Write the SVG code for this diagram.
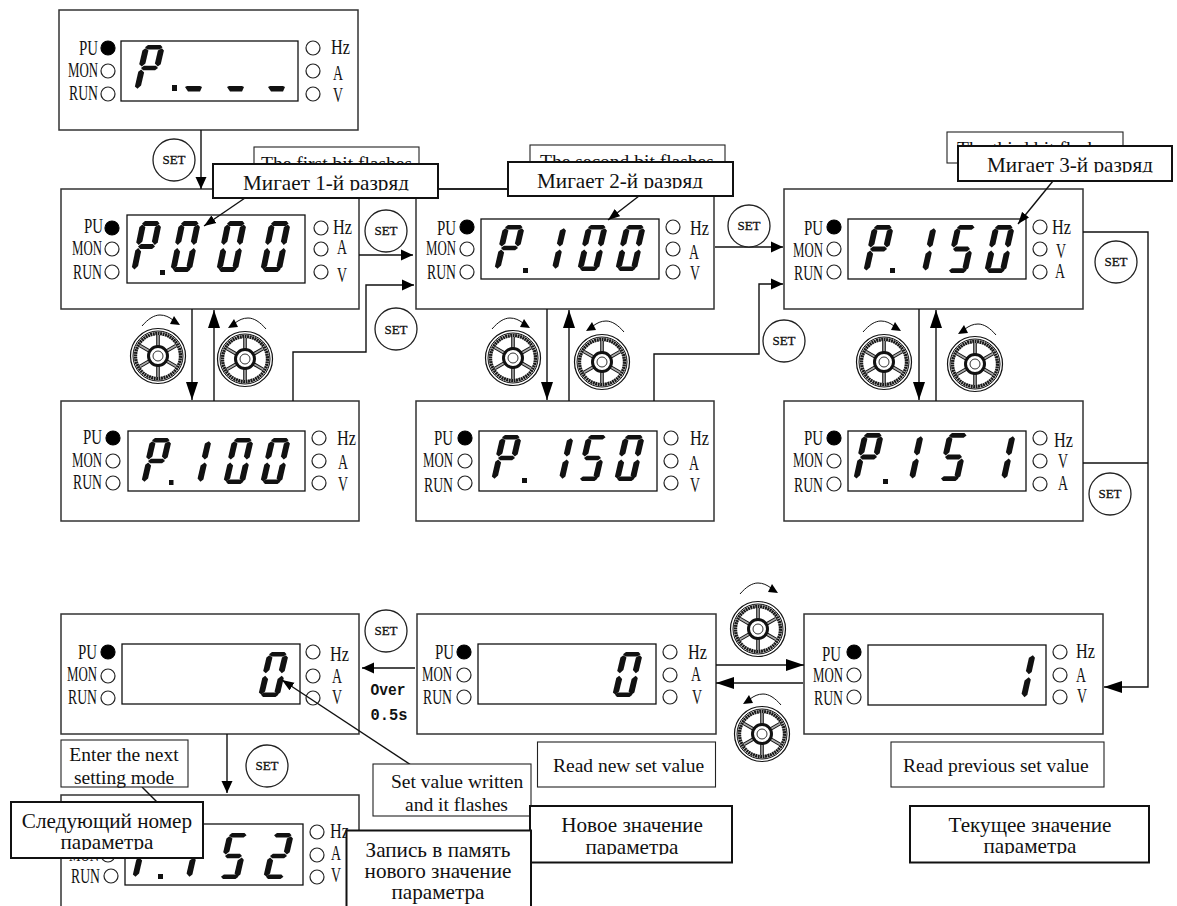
<svg xmlns="http://www.w3.org/2000/svg" width="1177" height="906" viewBox="0 0 1177 906">
<style>
text{font-family:"Liberation Serif","Times New Roman",serif;fill:#111}
.pn{fill:#fff;stroke:#333;stroke-width:1.5}
.dp{fill:#fff;stroke:#111;stroke-width:1.3}
.led{fill:#fff;stroke:#222;stroke-width:1.2}
.on{fill:#000;stroke:#000;stroke-width:1.2}
.l{font-size:20px}
.e{text-anchor:end}
.m{text-anchor:middle}
.con{fill:none;stroke:#111;stroke-width:1.4}
.setc{fill:#fff;stroke:#222;stroke-width:1.3}
.sett{font-size:13px;text-anchor:middle;stroke:#111;stroke-width:0.3}
.nb{fill:#fff;stroke:#222;stroke-width:1.1}
.kb{fill:#fff;stroke:#111;stroke-width:2}
.t{font-size:19.5px}
.r{font-size:21.2px}
.ov{font-family:"Liberation Mono",monospace;font-weight:bold;font-size:17px}
.arc{fill:none;stroke:#111;stroke-width:1}
.seg{fill:#111}
</style>
<defs>
<marker id="ah" markerUnits="userSpaceOnUse" markerWidth="12" markerHeight="12" refX="12" refY="6" orient="auto"><path d="M0,0.5L12,6L0,11.5Z" fill="#000"/></marker>
<marker id="ahl" markerUnits="userSpaceOnUse" markerWidth="18" markerHeight="12" refX="18" refY="6" orient="auto"><path d="M0,0L18,6L0,12Z" fill="#000"/></marker>
<marker id="ahs" markerUnits="userSpaceOnUse" markerWidth="12" markerHeight="10" refX="12" refY="5" orient="auto"><path d="M0,0.5L12,5L0,9.5Z" fill="#000"/></marker>
<polygon id="sa" class="seg" points="5,0 17.5,0 20,2.5 17.5,5 5,5 2.5,2.5"/>
<polygon id="sf" class="seg" points="0.5,6 3,3.5 6.5,6 6,20 3,23.5 0,21"/>
<polygon id="sb" class="seg" points="16,6 19.5,3.5 22,6 21.5,21 19,23.5 15.5,20"/>
<polygon id="sg" class="seg" points="5,22.5 17,22.5 19.5,25 17,27.5 5,27.5 2.5,25"/>
<polygon id="se" class="seg" points="0.5,29 3,26.5 6.5,30 6,44 3,47.5 0,45"/>
<polygon id="sc" class="seg" points="16,30 19.5,26.5 22,29 21.5,45 19,47.5 15.5,44"/>
<polygon id="sd" class="seg" points="5,45 17.5,45 20,47.5 17.5,50 5,50 2.5,47.5"/>
<g id="d0" transform="matrix(1 0 -0.18 1 0 0)"><use href="#sa"/><use href="#sf"/><use href="#sb"/><use href="#se"/><use href="#sc"/><use href="#sd"/></g>
<g id="d1" transform="matrix(1 0 -0.18 1 0 0)"><use href="#sb"/><use href="#sc"/></g>
<g id="d2" transform="matrix(1 0 -0.18 1 0 0)"><use href="#sa"/><use href="#sb"/><use href="#sg"/><use href="#se"/><use href="#sd"/></g>
<g id="d5" transform="matrix(1 0 -0.18 1 0 0)"><use href="#sa"/><use href="#sf"/><use href="#sg"/><use href="#sc"/><use href="#sd"/></g>
<g id="dP" transform="matrix(1 0 -0.18 1 0 0)"><use href="#sa"/><use href="#sf"/><use href="#sb"/><use href="#sg"/><use href="#se"/></g>
<polygon id="dash" class="seg" points="0,1 2,0 15,0 17,1 15,5.5 3,5.5"/>
<g id="wheel">
<circle r="27.5" fill="#fff" stroke="#111" stroke-width="1.2"/>
<circle r="25" fill="none" stroke="#111" stroke-width="1"/>
<circle r="22.5" fill="none" stroke="#1a1a1a" stroke-width="3.4" stroke-dasharray="2 0.5"/>
<path d="M0,-21V21M-18.2,-10.5L18.2,10.5M-18.2,10.5L18.2,-10.5" fill="none" stroke="#111" stroke-width="3.6"/>
<path d="M0,-21V21M-18.2,-10.5L18.2,10.5M-18.2,10.5L18.2,-10.5" fill="none" stroke="#aaa" stroke-width="1.6"/>
<circle r="9.5" fill="#fff" stroke="#111" stroke-width="3"/>
<circle r="5" fill="#fff" stroke="#333" stroke-width="1"/>
</g>
<g id="cw"><path class="arc" d="M0,0C6,-7 12,-11 18,-11C23,-11 27,-9 31,-6"/><polygon points="38,-1 32,-10 28,-2" fill="#000"/></g>
<clipPath id="c1"><rect x="214" y="165" width="223" height="25.5"/></clipPath>
<clipPath id="c2"><rect x="509" y="163" width="223" height="25.5"/></clipPath>
<clipPath id="c3"><rect x="959" y="147" width="212" height="25.5"/></clipPath>
<clipPath id="c4"><rect x="12" y="803" width="190" height="47"/></clipPath>
<clipPath id="c5"><rect x="531" y="807" width="200" height="48"/></clipPath>
<clipPath id="c6"><rect x="911" y="807" width="237" height="47"/></clipPath>
</defs>
<rect width="1177" height="906" fill="#fff"/>

<g id="panel-1">
<rect class="pn" x="59" y="10" width="299" height="120"/><rect class="dp" x="121" y="41" width="177" height="60"/>
<circle class="on" cx="108" cy="48" r="7"/><circle class="led" cx="108" cy="71" r="7"/><circle class="led" cx="108" cy="94" r="7"/>
<circle class="led" cx="313" cy="48" r="7"/><circle class="led" cx="313" cy="71" r="7"/><circle class="led" cx="313" cy="94" r="7"/>
<text class="l e" x="98" y="55" textLength="19" lengthAdjust="spacingAndGlyphs">PU</text><text class="l e" x="98" y="77" textLength="30" lengthAdjust="spacingAndGlyphs">MON</text><text class="l e" x="98" y="100" textLength="29" lengthAdjust="spacingAndGlyphs">RUN</text>
<text class="l" x="331" y="54" textLength="19" lengthAdjust="spacingAndGlyphs">Hz</text><text class="l m" x="338" y="80" textLength="10" lengthAdjust="spacingAndGlyphs">A</text><text class="l m" x="338" y="102" textLength="10" lengthAdjust="spacingAndGlyphs">V</text>
<use href="#dP" transform="translate(143,45) scale(1,0.92)"/><rect class="seg" x="172" y="85" width="5" height="6"/>
<use href="#dash" x="185" y="86"/><use href="#dash" x="227" y="86"/><use href="#dash" x="268" y="86"/>
</g>

<g id="panel-2">
<rect class="pn" x="61" y="189" width="298" height="120"/><rect class="dp" x="127" y="215" width="178" height="68"/>
<circle class="on" cx="112" cy="228" r="7"/><circle class="led" cx="112" cy="249" r="7"/><circle class="led" cx="112" cy="272" r="7"/>
<circle class="led" cx="321" cy="228" r="7"/><circle class="led" cx="321" cy="249" r="7"/><circle class="led" cx="321" cy="272" r="7"/>
<text class="l e" x="103" y="233" textLength="19" lengthAdjust="spacingAndGlyphs">PU</text><text class="l e" x="102" y="255" textLength="30" lengthAdjust="spacingAndGlyphs">MON</text><text class="l e" x="102" y="279" textLength="29" lengthAdjust="spacingAndGlyphs">RUN</text>
<text class="l" x="333" y="234" textLength="19" lengthAdjust="spacingAndGlyphs">Hz</text><text class="l m" x="342" y="254" textLength="10" lengthAdjust="spacingAndGlyphs">A</text><text class="l m" x="342" y="282" textLength="10" lengthAdjust="spacingAndGlyphs">V</text>
<use href="#dP" transform="translate(140,221) scale(1,1.02)"/><rect class="seg" x="160" y="270" width="5" height="5"/>
<use href="#d0" transform="translate(179,221) scale(1,1.02)"/><use href="#d0" transform="translate(225,221) scale(1,1.02)"/><use href="#d0" transform="translate(269,221) scale(1,1.02)"/>
</g>

<g id="panel-3">
<rect class="pn" x="416" y="189" width="298" height="120"/><rect class="dp" x="481" y="219" width="178" height="60"/>
<circle class="on" cx="467" cy="227" r="7"/><circle class="led" cx="467" cy="249" r="7"/><circle class="led" cx="467" cy="272" r="7"/>
<circle class="led" cx="673" cy="227" r="7"/><circle class="led" cx="673" cy="249" r="7"/><circle class="led" cx="673" cy="272" r="7"/>
<text class="l e" x="456" y="235" textLength="19" lengthAdjust="spacingAndGlyphs">PU</text><text class="l e" x="456" y="255" textLength="30" lengthAdjust="spacingAndGlyphs">MON</text><text class="l e" x="456" y="279" textLength="29" lengthAdjust="spacingAndGlyphs">RUN</text>
<text class="l" x="690" y="235" textLength="19" lengthAdjust="spacingAndGlyphs">Hz</text><text class="l m" x="694" y="259" textLength="10" lengthAdjust="spacingAndGlyphs">A</text><text class="l m" x="695" y="280" textLength="10" lengthAdjust="spacingAndGlyphs">V</text>
<use href="#dP" transform="translate(503,225) scale(1,0.92)"/><rect class="seg" x="523" y="268" width="5" height="5"/>
<use href="#d1" transform="translate(545,225) scale(1,0.92)"/><use href="#d0" transform="translate(586,225) scale(1,0.92)"/><use href="#d0" transform="translate(624,225) scale(1,0.92)"/>
</g>

<g id="panel-4">
<rect class="pn" x="784" y="189" width="299" height="120"/><rect class="dp" x="848" y="219" width="178" height="60"/>
<circle class="on" cx="834" cy="227" r="7"/><circle class="led" cx="834" cy="249" r="7"/><circle class="led" cx="834" cy="272" r="7"/>
<circle class="led" cx="1040" cy="227" r="7"/><circle class="led" cx="1040" cy="249" r="7"/><circle class="led" cx="1040" cy="272" r="7"/>
<text class="l e" x="823" y="235" textLength="19" lengthAdjust="spacingAndGlyphs">PU</text><text class="l e" x="823" y="257" textLength="30" lengthAdjust="spacingAndGlyphs">MON</text><text class="l e" x="823" y="280" textLength="29" lengthAdjust="spacingAndGlyphs">RUN</text>
<text class="l" x="1052" y="234" textLength="19" lengthAdjust="spacingAndGlyphs">Hz</text><text class="l m" x="1061" y="258" textLength="10" lengthAdjust="spacingAndGlyphs">V</text><text class="l m" x="1060" y="278" textLength="10" lengthAdjust="spacingAndGlyphs">A</text>
<use href="#dP" transform="translate(872,225) scale(1,0.96)"/><rect class="seg" x="890" y="268" width="5" height="5"/>
<use href="#d1" transform="translate(915,225) scale(1,0.96)"/><use href="#d5" transform="translate(955,225) scale(1,0.96)"/><use href="#d0" transform="translate(993,225) scale(1,0.96)"/>
</g>

<g id="panel-5">
<rect class="pn" x="61" y="401" width="298" height="120"/><rect class="dp" x="128" y="431" width="177" height="60"/>
<circle class="on" cx="113" cy="438" r="7"/><circle class="led" cx="113" cy="461" r="7"/><circle class="led" cx="113" cy="483" r="7"/>
<circle class="led" cx="319" cy="438" r="7"/><circle class="led" cx="319" cy="461" r="7"/><circle class="led" cx="319" cy="483" r="7"/>
<text class="l e" x="102" y="444" textLength="19" lengthAdjust="spacingAndGlyphs">PU</text><text class="l e" x="102" y="467" textLength="30" lengthAdjust="spacingAndGlyphs">MON</text><text class="l e" x="102" y="489" textLength="29" lengthAdjust="spacingAndGlyphs">RUN</text>
<text class="l" x="337" y="445" textLength="19" lengthAdjust="spacingAndGlyphs">Hz</text><text class="l m" x="343" y="469" textLength="10" lengthAdjust="spacingAndGlyphs">A</text><text class="l m" x="343" y="491" textLength="10" lengthAdjust="spacingAndGlyphs">V</text>
<use href="#dP" transform="translate(150,438) scale(1,0.92)"/><rect class="seg" x="169" y="480" width="4.5" height="5"/>
<use href="#d1" transform="translate(190,438) scale(1,0.92)"/><use href="#d0" transform="translate(232,438) scale(1,0.92)"/><use href="#d0" transform="translate(269,438) scale(1,0.92)"/>
</g>

<g id="panel-6">
<rect class="pn" x="416" y="401" width="298" height="120"/><rect class="dp" x="479" y="431" width="178" height="60"/>
<circle class="on" cx="465" cy="438" r="7"/><circle class="led" cx="465" cy="461" r="7"/><circle class="led" cx="465" cy="483" r="7"/>
<circle class="led" cx="671" cy="438" r="7"/><circle class="led" cx="671" cy="461" r="7"/><circle class="led" cx="671" cy="483" r="7"/>
<text class="l e" x="453" y="445" textLength="19" lengthAdjust="spacingAndGlyphs">PU</text><text class="l e" x="453" y="467" textLength="30" lengthAdjust="spacingAndGlyphs">MON</text><text class="l e" x="453" y="492" textLength="29" lengthAdjust="spacingAndGlyphs">RUN</text>
<text class="l" x="690" y="445" textLength="19" lengthAdjust="spacingAndGlyphs">Hz</text><text class="l m" x="694" y="470" textLength="10" lengthAdjust="spacingAndGlyphs">A</text><text class="l m" x="695" y="492" textLength="10" lengthAdjust="spacingAndGlyphs">V</text>
<use href="#dP" transform="translate(500,435) scale(1,0.92)"/><rect class="seg" x="522" y="478" width="5" height="5"/>
<use href="#d1" transform="translate(552,435) scale(1,0.92)"/><use href="#d5" transform="translate(586,435) scale(1,0.92)"/><use href="#d0" transform="translate(623,435) scale(1,0.92)"/>
</g>

<g id="panel-7">
<rect class="pn" x="784" y="401" width="299" height="120"/><rect class="dp" x="848" y="431" width="178" height="60"/>
<circle class="on" cx="834" cy="438" r="7"/><circle class="led" cx="834" cy="461" r="7"/><circle class="led" cx="834" cy="484" r="7"/>
<circle class="led" cx="1040" cy="438" r="7"/><circle class="led" cx="1040" cy="461" r="7"/><circle class="led" cx="1040" cy="484" r="7"/>
<text class="l e" x="823" y="445" textLength="19" lengthAdjust="spacingAndGlyphs">PU</text><text class="l e" x="823" y="467" textLength="30" lengthAdjust="spacingAndGlyphs">MON</text><text class="l e" x="823" y="492" textLength="29" lengthAdjust="spacingAndGlyphs">RUN</text>
<text class="l" x="1054" y="447" textLength="19" lengthAdjust="spacingAndGlyphs">Hz</text><text class="l m" x="1063" y="468" textLength="10" lengthAdjust="spacingAndGlyphs">V</text><text class="l m" x="1063" y="490" textLength="10" lengthAdjust="spacingAndGlyphs">A</text>
<use href="#dP" transform="translate(862,433) scale(1,0.96)"/><rect class="seg" x="883" y="479" width="5" height="5"/>
<use href="#d1" transform="translate(902,433) scale(1,0.96)"/><use href="#d5" transform="translate(947,433) scale(1,0.96)"/><use href="#d1" transform="translate(994,433) scale(1,0.96)"/>
</g>

<g id="panel-8">
<rect class="pn" x="61" y="614" width="298" height="120"/><rect class="dp" x="122" y="644" width="178" height="60"/>
<circle class="on" cx="108" cy="652" r="7"/><circle class="led" cx="108" cy="676" r="7"/><circle class="led" cx="108" cy="698" r="7"/>
<circle class="led" cx="313" cy="652" r="7"/><circle class="led" cx="313" cy="676" r="7"/><circle class="led" cx="313" cy="698" r="7"/>
<text class="l e" x="97" y="659" textLength="19" lengthAdjust="spacingAndGlyphs">PU</text><text class="l e" x="97" y="681" textLength="30" lengthAdjust="spacingAndGlyphs">MON</text><text class="l e" x="97" y="704" textLength="29" lengthAdjust="spacingAndGlyphs">RUN</text>
<text class="l" x="330" y="661" textLength="19" lengthAdjust="spacingAndGlyphs">Hz</text><text class="l m" x="337" y="683" textLength="10" lengthAdjust="spacingAndGlyphs">A</text><text class="l m" x="337" y="704" textLength="10" lengthAdjust="spacingAndGlyphs">V</text>
<use href="#d0" transform="translate(267,652) scale(1,0.9)"/>
</g>

<g id="panel-9">
<rect class="pn" x="417" y="614" width="299" height="120"/><rect class="dp" x="478" y="644" width="178" height="60"/>
<circle class="on" cx="464" cy="652" r="7"/><circle class="led" cx="464" cy="675" r="7"/><circle class="led" cx="464" cy="697" r="7"/>
<circle class="led" cx="670" cy="652" r="7"/><circle class="led" cx="670" cy="675" r="7"/><circle class="led" cx="670" cy="697" r="7"/>
<text class="l e" x="454" y="659" textLength="19" lengthAdjust="spacingAndGlyphs">PU</text><text class="l e" x="452" y="681" textLength="30" lengthAdjust="spacingAndGlyphs">MON</text><text class="l e" x="452" y="704" textLength="29" lengthAdjust="spacingAndGlyphs">RUN</text>
<text class="l" x="688" y="659" textLength="19" lengthAdjust="spacingAndGlyphs">Hz</text><text class="l m" x="696" y="681" textLength="10" lengthAdjust="spacingAndGlyphs">A</text><text class="l m" x="697" y="704" textLength="10" lengthAdjust="spacingAndGlyphs">V</text>
<use href="#d0" transform="translate(621,652) scale(1,0.9)"/>
</g>

<g id="panel-10">
<rect class="pn" x="804" y="614" width="299" height="120"/><rect class="dp" x="868" y="645" width="178" height="60"/>
<circle class="on" cx="854" cy="652" r="7"/><circle class="led" cx="854" cy="675" r="7"/><circle class="led" cx="854" cy="697" r="7"/>
<circle class="led" cx="1060" cy="652" r="7"/><circle class="led" cx="1060" cy="675" r="7"/><circle class="led" cx="1060" cy="697" r="7"/>
<text class="l e" x="841" y="661" textLength="19" lengthAdjust="spacingAndGlyphs">PU</text><text class="l e" x="843" y="682" textLength="30" lengthAdjust="spacingAndGlyphs">MON</text><text class="l e" x="843" y="705" textLength="29" lengthAdjust="spacingAndGlyphs">RUN</text>
<text class="l" x="1076" y="658" textLength="19" lengthAdjust="spacingAndGlyphs">Hz</text><text class="l m" x="1081" y="682" textLength="10" lengthAdjust="spacingAndGlyphs">A</text><text class="l m" x="1082" y="703" textLength="10" lengthAdjust="spacingAndGlyphs">V</text>
<use href="#d1" transform="translate(1014,652) scale(1,0.95)"/>
</g>

<g id="panel-11">
<rect class="pn" x="61" y="795" width="298" height="120"/><rect class="dp" x="125" y="824" width="178" height="61"/>
<circle class="led" cx="108" cy="855" r="7"/><circle class="led" cx="111" cy="876" r="7"/>
<circle class="led" cx="317" cy="832" r="7"/><circle class="led" cx="317" cy="855" r="7"/><circle class="led" cx="317" cy="877" r="7"/>
<text class="l e" x="99" y="861" textLength="30" lengthAdjust="spacingAndGlyphs">MON</text><text class="l e" x="100" y="883" textLength="29" lengthAdjust="spacingAndGlyphs">RUN</text>
<text class="l" x="330" y="838" textLength="19" lengthAdjust="spacingAndGlyphs">Hz</text><text class="l m" x="336" y="860" textLength="10" lengthAdjust="spacingAndGlyphs">A</text><text class="l m" x="336" y="882" textLength="10" lengthAdjust="spacingAndGlyphs">V</text>
<use href="#dP" transform="translate(141,833) scale(1,0.92)"/><rect class="seg" x="158" y="874" width="5" height="5"/>
<use href="#d1" transform="translate(179,833) scale(1,0.92)"/><use href="#d5" transform="translate(227,833) scale(1,0.92)"/><use href="#d2" transform="translate(272,833) scale(1,0.92)"/>
</g>

<g id="wheels">
<use href="#wheel" x="158" y="356"/><use href="#wheel" x="245" y="359"/>
<use href="#wheel" x="513" y="358"/><use href="#wheel" x="602" y="362"/>
<use href="#wheel" x="884" y="362"/><use href="#wheel" x="975" y="364"/>
<use href="#wheel" x="758" y="629"/><use href="#wheel" x="762" y="734"/>
<use href="#cw" transform="translate(142,326)"/><use href="#cw" transform="translate(266,329) scale(-1,1)"/>
<use href="#cw" transform="translate(492,329)"/><use href="#cw" transform="translate(624,332) scale(-1,1)"/>
<use href="#cw" transform="translate(863,332)"/><use href="#cw" transform="translate(996,335) scale(-1,1)"/>
<use href="#cw" transform="translate(740,594)"/><use href="#cw" transform="translate(781,705) scale(-1,1)"/>
</g>

<g id="connectors">
<path class="con" d="M201,130V189" marker-end="url(#ah)"/>
<path class="con" d="M359,255H413" marker-end="url(#ah)"/>
<path class="con" d="M293,401V352H366V285H414" marker-end="url(#ah)"/>
<path class="con" d="M192,309V400" marker-end="url(#ahl)"/>
<path class="con" d="M214,401V310" marker-end="url(#ahl)"/>
<path class="con" d="M547,309V400" marker-end="url(#ahl)"/>
<path class="con" d="M569,401V310" marker-end="url(#ahl)"/>
<path class="con" d="M715,247H783" marker-end="url(#ah)"/>
<path class="con" d="M654,401V354H759V284H783" marker-end="url(#ah)"/>
<path class="con" d="M919,309V400" marker-end="url(#ahl)"/>
<path class="con" d="M936,401V310" marker-end="url(#ahl)"/>
<path class="con" d="M1083,232H1148V687H1104" marker-end="url(#ahl)"/>
<path class="con" d="M1083,463H1148"/>
<path class="con" d="M716,665H804" marker-end="url(#ahl)"/>
<path class="con" d="M803,683H716" marker-end="url(#ahl)"/>
<path class="con" d="M415,668H362" marker-end="url(#ah)"/>
<path class="con" d="M227,734V793" marker-end="url(#ah)"/>
<path class="con" d="M245,198L204,226" marker-end="url(#ahs)"/>
<path class="con" d="M639,196L608,220" marker-end="url(#ahs)"/>
<path class="con" d="M1053,181L1018,224" marker-end="url(#ahs)"/>
<path class="con" d="M411,765L282,680" marker-end="url(#ahs)"/>
<path class="con" d="M142,787L157,802"/>
<path class="con" d="M438,189H508"/>
</g>

<g id="set-buttons">
<g id="set-1"><circle class="setc" cx="174" cy="160" r="21"/><text class="sett" x="174" y="164">SET</text></g>
<g id="set-2"><circle class="setc" cx="386" cy="231" r="21"/><text class="sett" x="386" y="235">SET</text></g>
<g id="set-3"><circle class="setc" cx="396" cy="329" r="21"/><text class="sett" x="396" y="334">SET</text></g>
<g id="set-4"><circle class="setc" cx="749" cy="226" r="21"/><text class="sett" x="749" y="230">SET</text></g>
<g id="set-5"><circle class="setc" cx="784" cy="341" r="21"/><text class="sett" x="784" y="345">SET</text></g>
<g id="set-6"><circle class="setc" cx="1116" cy="262" r="21"/><text class="sett" x="1116" y="266">SET</text></g>
<g id="set-7"><circle class="setc" cx="1110" cy="494" r="21"/><text class="sett" x="1110" y="498">SET</text></g>
<g id="set-8"><circle class="setc" cx="386" cy="631" r="21"/><text class="sett" x="386" y="635">SET</text></g>
<g id="set-9"><circle class="setc" cx="267" cy="766" r="21"/><text class="sett" x="267" y="770">SET</text></g>
</g>

<g id="over"><text class="ov" x="370.5" y="695" textLength="35" lengthAdjust="spacingAndGlyphs">Over</text><text class="ov" x="370.5" y="720" textLength="37" lengthAdjust="spacingAndGlyphs">0.5s</text></g>

<g id="note-first"><rect class="nb" x="254" y="147" width="165" height="40"/><text class="t" x="261" y="170">The first bit flashes</text></g>
<g id="note-second"><rect class="nb" x="530" y="145" width="195" height="40"/><text class="t" x="540" y="168">The second bit flashes</text></g>
<g id="note-third"><rect class="nb" x="947" y="132" width="176" height="31"/><text class="t" x="957" y="155">The third bit flashes</text></g>
<g id="note-next"><rect class="nb" x="61" y="740" width="127" height="47"/><text class="t m" x="124" y="761">Enter the next</text><text class="t m" x="124" y="784">setting mode</text></g>
<g id="note-written"><rect class="nb" x="373" y="764" width="158" height="52"/><text class="t" x="391" y="788">Set value written</text><text class="t" x="405" y="811">and it flashes</text></g>
<g id="note-new"><rect class="nb" x="537.5" y="742" width="178" height="45"/><text class="t" x="553" y="772">Read new set value</text></g>
<g id="note-prev"><rect class="nb" x="891" y="742" width="213" height="45"/><text class="t" x="903" y="772">Read previous set value</text></g>

<g id="ru-1"><rect class="kb" x="213" y="164" width="225" height="34"/><text class="t r m" x="326" y="190" clip-path="url(#c1)">Мигает 1-й разряд</text></g>
<g id="ru-2"><rect class="kb" x="508" y="162" width="225" height="34"/><text class="t r m" x="620" y="188" clip-path="url(#c2)">Мигает 2-й разряд</text></g>
<g id="ru-3"><rect class="kb" x="958" y="146" width="214" height="35"/><text class="t r m" x="1070" y="172" clip-path="url(#c3)">Мигает 3-й разряд</text></g>
<g id="ru-next"><rect class="kb" x="11" y="802" width="192" height="56"/><text class="t r m" x="107" y="828">Следующий номер</text><text class="t r m" x="107" y="849" clip-path="url(#c4)">параметра</text></g>
<g id="ru-new"><rect class="kb" x="530" y="806" width="202" height="56.5"/><text class="t r m" x="632" y="832">Новое значение</text><text class="t r m" x="632" y="854" clip-path="url(#c5)">параметра</text></g>
<g id="ru-write"><rect class="kb" x="346.5" y="830.5" width="184.5" height="90"/><text class="t r m" x="438" y="857">Запись в память</text><text class="t r m" x="438" y="878">нового значение</text><text class="t r m" x="438" y="899">параметра</text></g>
<g id="ru-cur"><rect class="kb" x="910" y="806" width="239" height="56.5"/><text class="t r m" x="1030" y="832">Текущее значение</text><text class="t r m" x="1030" y="853" clip-path="url(#c6)">параметра</text></g>
</svg>
